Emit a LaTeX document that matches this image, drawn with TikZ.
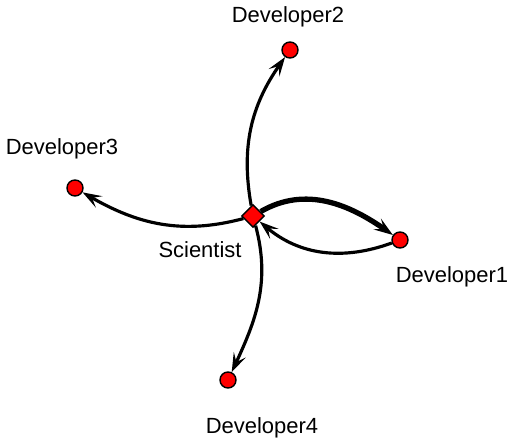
\documentclass[tikz,border=0pt]{standalone}
\usepackage{fontspec}
\setmainfont{Liberation Sans}
\usetikzlibrary{shapes,arrows.meta,positioning}

\begin{document}
\begin{tikzpicture}[x=0.02cm, y=0.02cm,
    dev/.style={circle, draw, fill=red, inner sep=0pt, minimum size=0.32cm, thick},
    sci/.style={diamond, draw, fill=red, inner sep=0pt, minimum size=0.46cm, thick},
    lbl/.style={font=\fontsize{12.5}{14}\selectfont},
    link/.style={line width=1.8pt, -{Stealth[length=0.38cm, width=0.26cm, inset=0.16cm]}}]
    \useasboundingbox (0, 0) rectangle (519, 442);

    % vertices
    \node[sci] (sci) at (253, 226) {};
    \node[dev] (d1) at (400, 202) {};
    \node[dev] (d2) at (290, 392) {};
    \node[dev] (d3) at (75, 254) {};
    \node[dev] (d4) at (228, 62) {};

    % labels
    \node[lbl] (lsci) at (200, 192) {Scientist};
    \node[lbl] (l1) at (452, 165) {Developer1};
    \node[lbl] (l2) at (288, 425) {Developer2};
    \node[lbl] (l3) at (62, 293) {Developer3};
    \node[lbl] (l4) at (262, 14) {Developer4};

    % edges
    \draw[link, line width=3pt] (sci) to[out=30, in=145] (d1);
    \draw[link] (d1) to[out=200, in=-40] (sci);
    \draw[link] (sci) to[out=100, in=235] (d2);
    \draw[link] (sci) to[out=195, in=-30] (d3);
    \draw[link] (sci) to[out=-75, in=65] (d4);
\end{tikzpicture}
\end{document}
